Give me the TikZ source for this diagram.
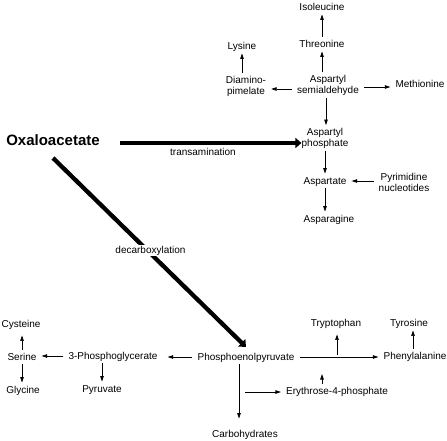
\documentclass[tikz,border=0pt]{standalone}
\usepackage{fontspec}
\setmainfont{Liberation Sans}
\usepackage{xcolor}
\usetikzlibrary{arrows.meta,positioning,calc}
\definecolor{pwInk}{HTML}{000000}
\tikzset{
  met/.style={inner xsep=5pt, inner ysep=2.5pt, text height=8.5pt, text depth=1pt, font=\fontsize{10}{11}\selectfont, align=center, text=pwInk},
  met2/.style={met, text height=, text depth=},
  rxn/.style={font=\fontsize{10}{11}\selectfont, inner sep=1pt, text=pwInk},
  arr/.style={-{Triangle[length=5.5pt,width=3.5pt]}, line width=0.7pt, draw=pwInk},
  thk/.style={-{Triangle[length=6pt,width=10pt]}, line width=4.3pt, draw=pwInk},
}

\begin{document}
\begin{tikzpicture}[x=1pt,y=-1pt]
            \useasboundingbox (0,0) rectangle (447,441);
            \node[met] (iso) at (322,7) {Isoleucine};
            \node[met] (thr) at (322,44) {Threonine};
            \node[met] (lys) at (242,46) {Lysine};
            \node[met2] (dap) at (246,86) {Diamino-\\pimelate};
            \node[met2] (asa) at (328,85) {Aspartyl\\semialdehyde};
            \node[met] (mth) at (420,84) {Methionine};
            \node[met2] (asp) at (325,138) {Aspartyl\\phosphate};
            \node[met] (aspt) at (325,181) {Aspartate};
            \node[met2] (pyr) at (404,182) {Pyrimidine\\nucleotides};
            \node[met] (asn) at (329,219) {Asparagine};
            \node[inner sep=0pt, font=\fontsize{15}{18}\selectfont\bfseries, text=pwInk] (oaa) at (53,140) {Oxaloacetate};
            \node[met] (pep) at (246,357) {Phosphoenolpyruvate};
            \node[met] (pg) at (113,356) {3-Phosphoglycerate};
            \node[met] (ser) at (22,357) {Serine};
            \node[met] (cys) at (21,324) {Cysteine};
            \node[met] (gly) at (23,390) {Glycine};
            \node[met] (pyv) at (102,389) {Pyruvate};
            \node[met] (trp) at (336,323) {Tryptophan};
            \node[met] (tyr) at (409,323) {Tyrosine};
            \node[met] (phe) at (415,356) {Phenylalanine};
            \node[met] (e4p) at (337,391) {Erythrose-4-phosphate};
            \node[met] (carb) at (245,434) {Carbohydrates};
            \node[rxn] (tam) at (203,152) {transamination};
            \coordinate (fork) at (245,392);
            \coordinate (join) at (322,374);
            \coordinate (tap) at (337,355);

            \draw[arr] (thr) -- (iso);
            \draw[arr] (thr |- asa.north) -- (thr);
            \draw[arr] ([yshift=-4pt]asa.west) -- ([yshift=-4pt]asa.west -| dap.east);
            \draw[arr] (lys |- dap.north) -- (lys);
            \draw[arr] ([yshift=-2pt]asa.east) -- ([yshift=-2pt]asa.east -| mth.west);
            \draw[arr] ([xshift=-2pt]asa.south) -- ([xshift=-2pt]asa.south |- asp.north);
            \draw[arr] (asp) -- (aspt);
            \draw[arr] (aspt -| pyr.west) -- (aspt);
            \draw[arr] (aspt) -- (aspt |- asn.north);
            \draw[arr, shorten >=5pt] (pep.west) -- (pep.west -| pg.east);
            \draw[arr] (pg.west) -- (pg.west -| ser.east);
            \draw[arr, shorten >=4pt] (ser) -- (ser |- cys.south);
            \draw[arr] (ser) -- (ser |- gly.north);
            \draw[arr] (pyv |- pg.south) -- (pyv);
            \draw[arr, shorten >=8pt] ([xshift=-7pt]pep.south) -- ([xshift=-7pt]pep.south |- carb.north);
            \draw[arr] (fork) -- (fork -| e4p.west);
            \draw[arr] (pep.east) -- (pep.east -| phe.west);
            \draw[arr] (join |- e4p.north) -- (join);
            \draw[arr, shorten >=4pt] (tap) -- (tap |- trp.south);
            \draw[arr] ([xshift=-2pt]phe.north) -- ([xshift=-2pt]phe.north |- tyr.south);
            \draw[thk, shorten <=20pt, shorten >=-5pt] ([yshift=-3pt]oaa.east) -- ([yshift=-3pt]oaa.east -| asp.west);
            \draw[thk] ([yshift=-18pt]oaa.center) -- ([yshift=10pt]pep.center) node[rxn, fill=white, pos=0.505, yshift=3pt] {decarboxylation};
        \end{tikzpicture}
\end{document}
